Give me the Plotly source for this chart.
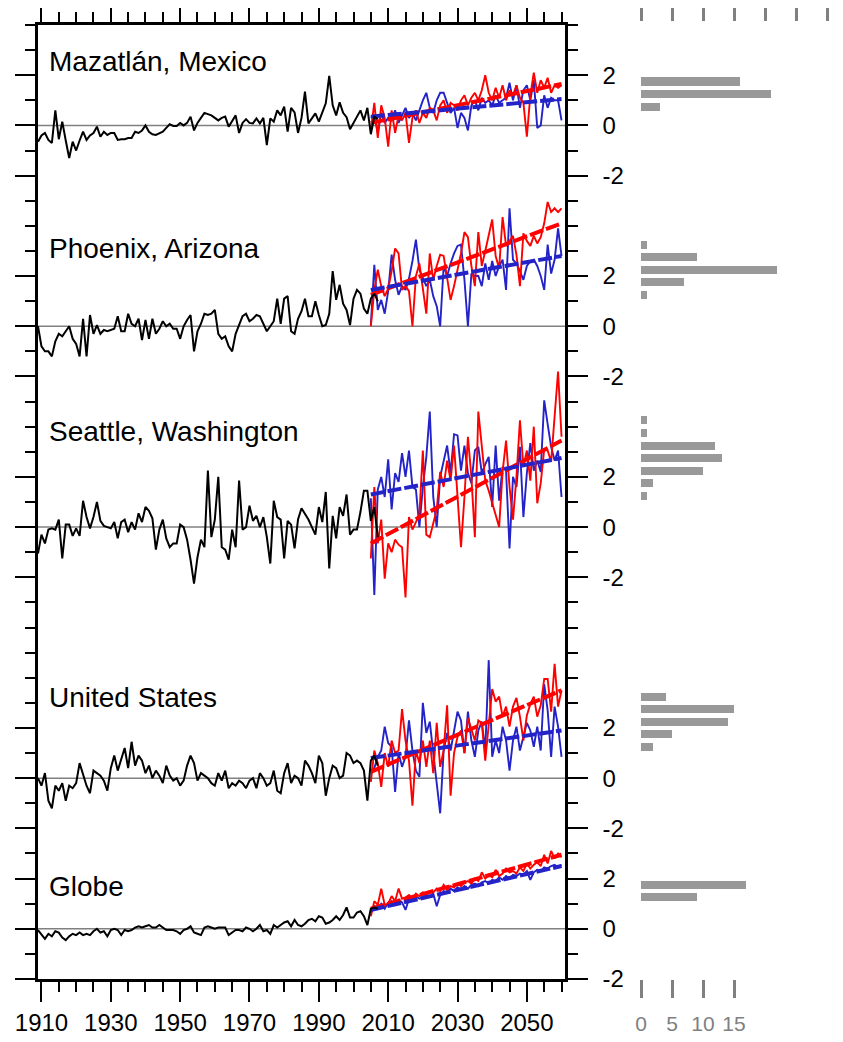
import plotly.graph_objects as go

# ---------------- data ----------------
obs_years = list(range(1909, 2008))
proj_years = list(range(2005, 2061))

stations = ["Mazatlán, Mexico", "Phoenix, Arizona", "Seattle, Washington", "United States", "Globe"]
baselines = [34, 26, 18, 8, 2]          # vertical offset of each panel's zero
right_labels = ["-2", "0", "2"]

obs_mazatlan = [
    -0.65, -0.4, -0.3, -0.58, -0.7, 0.6, -0.55, 0.15, -0.6, -1.3,
    -0.65, -1.0, -0.6, -0.25, -0.58, -0.4, -0.3, -0.05, -0.45, -0.25,
    -0.38, -0.3, -0.3, -0.58, -0.55, -0.55, -0.5, -0.5, -0.25, -0.3,
    -0.2, 0.0, -0.25, -0.35, -0.38, -0.3, -0.25, -0.1, 0.05, -0.02,
    -0.02, 0.1, 0.0, 0.1, 0.35, -0.2, 0.1, 0.3, 0.5, 0.45,
    0.4, 0.3, 0.2, 0.3, 0.35, -0.05, 0.2, 0.4, -0.3, 0.1,
    0.25, 0.1, 0.08, 0.28, 0.08, 0.3, -0.78, 0.28, 0.15, 0.6,
    0.4, 0.75, -0.25, 0.7, 0.52, -0.3, 0.3, 1.35, 0.08, 0.3,
    0.48, 0.15, 0.5, 0.88, 1.97, 0.8, 0.4, 0.92, 0.5, 0.33,
    -0.15, 0.1, 0.33, 0.6, 0.2, 0.7, -0.35, 0.35, 0.25]
obs_phoenix = [
    0.0, -0.8, -1.0, -1.0, -1.2, -0.6, -0.3, -0.4, -0.2, 0.0,
    -0.5, -0.7, -1.2, 0.3, -1.2, 0.45, -0.3, 0.05, -0.3, -0.15,
    -0.2, -0.15, -0.1, 0.4, -0.2, -0.2, 0.5, 0.1, 0.0, 0.3,
    -0.55, 0.25, -0.5, 0.3, -0.3, -0.1, 0.2, 0.0, 0.1, -0.1,
    -0.1, -0.5, 0.0, 0.25, 0.45, -1.0, -0.2, 0.1, 0.5, 0.45,
    0.5, 0.65, -0.3, -0.5, -0.4, -0.8, -1.0, -0.3, 0.05, 0.4,
    0.5, 0.2, 0.3, 0.45, 0.4, 0.1, -0.2, 0.0, 0.2, 1.1,
    0.1, 1.1, 1.2, -0.2, -0.3, 0.3, 0.6, 1.1, 0.4, 0.4,
    1.0, 0.45, 0.0, 0.05, 0.5, 2.2, 1.05, 1.65, 0.9, 0.65,
    0.05, 1.1, 1.45, 1.3, 0.7, 0.5, 1.1, 1.3, 1.0]
obs_seattle = [
    -1.05, -0.3, -0.65, -0.1, -0.05, -0.1, 0.3, -1.25, 0.1, 0.1,
    -0.35, -0.05, -0.35, 1.05, 0.4, -0.05, 0.4, 1.0, 0.25, 0.05,
    0.0, -0.05, 0.2, -0.45, 0.2, 0.3, -0.2, 0.2, -0.1, 0.55,
    0.2, 0.8, 0.65, 0.35, -0.9, -0.1, 0.3, -0.45, -0.8, -0.65,
    -0.65, 0.1, 0.0, -0.5, -1.3, -2.25, -1.2, -0.5, -0.8, 2.25,
    -0.4, 0.3, 2.0, -0.8, -0.9, -1.3, -0.1, -0.8, 1.85, -0.1,
    0.0, 0.85, 0.25, 0.45, 0.0, 0.4, -0.4, -1.45, 1.05, 0.4,
    0.3, -1.25, 0.25, 0.1, -0.85, 0.3, 0.75, 0.55, 0.3, 0.0,
    -0.3, 0.8, 0.2, 1.4, -1.65, 0.45, -0.45, 0.8, 0.45, 1.3,
    -0.3, -0.1, -0.1, 0.6, 1.45, 1.45, 0.25, 0.8, -0.4]
obs_us = [
    0.0, -0.3, 0.2, -0.9, -1.2, -0.3, -0.5, -0.2, -0.9, -0.3,
    -0.4, -0.2, 0.6, 0.1, -0.3, -0.6, 0.3, 0.2, 0.1, -0.1,
    -0.5, 0.4, 0.9, 0.3, 0.8, 1.2, 0.4, 1.45, 0.5, 0.9,
    0.7, 0.2, 0.5, 0.0, 0.3, 0.1, -0.2, 0.5, 0.1, -0.1,
    0.0, -0.3, -0.1, 0.5, 0.9, 0.6, -0.1, 0.2, 0.1, 0.0,
    -0.2, -0.3, 0.2, -0.1, 0.3, -0.4, -0.2, -0.3, -0.1, -0.2,
    -0.4, -0.1, 0.0, -0.4, 0.2, 0.0, -0.3, -0.2, 0.3, -0.5,
    -0.6, 0.2, 0.6, -0.2, 0.1, 0.0, -0.3, 0.7, 0.5, 0.2,
    -0.2, 0.9, 0.6, -0.7, 0.0, 0.5, 0.4, 0.0, 0.1, 1.0,
    0.9, 0.6, 0.7, 0.6, 0.3, -0.9, 0.7, 0.9, 0.5]
obs_globe = [
    -0.05, -0.25, -0.4, -0.2, -0.3, -0.1, -0.15, -0.35, -0.45, -0.3,
    -0.2, -0.25, -0.15, -0.25, -0.2, -0.25, -0.1, 0.0, -0.15, -0.1,
    -0.3, -0.05, 0.0, -0.05, -0.25, -0.05, -0.1, -0.05, 0.05, 0.1,
    0.05, 0.1, 0.15, 0.05, 0.05, 0.15, 0.05, -0.05, -0.05, -0.05,
    -0.1, -0.2, -0.05, 0.0, 0.1, -0.15, -0.2, -0.25, 0.05, 0.1,
    0.05, 0.0, 0.05, 0.05, 0.05, -0.25, -0.15, -0.05, -0.05, -0.1,
    0.05, 0.0, -0.1, 0.0, 0.15, -0.1, -0.05, -0.2, 0.15, 0.05,
    0.15, 0.25, 0.3, 0.1, 0.35, 0.15, 0.1, 0.2, 0.35, 0.4,
    0.3, 0.5, 0.45, 0.2, 0.25, 0.35, 0.5, 0.35, 0.55, 0.85,
    0.45, 0.45, 0.65, 0.7, 0.5, 0.15, 0.8, 0.85, 0.8]

red_mazatlan = [
    -0.2, 0.9, -0.5, 0.8, 0.3, -0.85, 0.6, -0.3, 0.4, 0.2,
    0.5, -0.7, 0.3, 0.6, 0.1, 0.5, 0.3, 0.7, 0.6, 0.2,
    0.8, 1.0, 0.5, 0.9, 0.8, 0.6, 1.0, 1.2, 0.8, 1.1,
    1.3, 1.0, 1.4, 2.0, 1.3, 1.0, 1.5, 1.1, 1.6, 1.0,
    1.4, 1.2, 1.6, 1.1, 0.9, -0.45, 1.2, 2.1, 1.3, 1.8,
    1.5, 1.9, 1.3, 1.6, 1.5, 1.6]
blue_mazatlan = [
    0.3, 0.4, -0.3, 0.5, 0.1, 0.3, 0.2, 0.6, 0.1, 0.4,
    0.7, 0.3, 0.5, 0.2, 0.6, 1.0, 1.3, 0.7, 0.5, 1.0,
    1.3, 1.3, 0.9, 0.5, 0.7, -0.1, 0.5, 0.3, -0.2, 0.8,
    1.0, 0.6, 1.1, 0.9, 1.0, 0.8, 1.2, 0.9, 1.0, 1.1,
    1.7, 1.0, 1.6, 0.7, 1.4, 1.6, 1.0, 1.8, -0.1, 0.0,
    1.2, 0.7, 1.1, 1.0, 1.0, 0.2]
red_phoenix = [
    0.0, 1.45, 2.25, 1.6, 1.2, 1.5, 2.2, 3.1, 2.9, 1.45,
    1.6, 1.4, 0.0, 2.0, 2.5, 1.4, 0.5, 2.9, 1.85, 2.4,
    2.85, 2.8, 2.0, 1.05, 1.6, 2.2, 2.9, 3.75, 3.55, 2.4,
    1.6, 3.75, 2.4, 3.0, 3.7, 4.25, 2.8, 2.3, 4.35, 3.2,
    3.4, 3.6, 2.85, 1.6, 3.7, 3.4, 3.2, 3.6, 3.3, 3.55,
    4.1, 4.95, 4.55, 4.7, 4.55, 4.7]
blue_phoenix = [
    0.05, 2.45, 0.65, 1.05, 0.5, 1.4, 2.85, 1.85, 1.25, 1.6,
    1.45, 1.9, 2.6, 3.45, 2.25, 1.9, 1.6, 1.85, 1.2, 0.8,
    0.0, 2.4, 2.0, 2.5, 2.9, 3.2, 3.25, 1.85, 0.0, 2.1,
    2.0, 2.0, 1.6, 2.5, 1.85, 2.6, 2.0, 2.4, 2.65, 1.45,
    4.7, 2.65, 2.5, 2.2, 1.85, 2.4, 2.6, 2.65, 2.4, 2.0,
    1.45, 3.25, 2.1, 2.65, 3.9, 2.8]
red_seattle = [
    -1.25, 1.6, -0.65, 0.3, -2.05, -0.65, -1.0, -0.5, -0.7, -0.8,
    -2.8, 0.4, -0.1, 0.2, 0.5, 3.05, -0.3, -0.4, 0.15, 0.7,
    2.2, 1.6, 2.65, 1.85, 3.25, 1.0, -0.8, 1.2, 3.6, 2.0,
    -0.4, 4.6, 3.2, 1.85, 1.45, 1.0, 0.55, 0.0, 2.2, 3.45,
    1.6, 0.3, 2.0, 4.25, 2.4, 3.05, 1.85, 4.0, 0.95, 1.75,
    3.1, 3.05, 2.6, 4.4, 6.2, 3.6]
blue_seattle = [
    1.15, -2.7, 1.5, 2.0, 1.2, 2.7, 0.7, 2.15, 1.8, 2.95,
    2.0, 3.05, 1.6, 1.5, 0.0, 1.6, 2.8, 4.6, 1.2, 0.0,
    2.0, 2.6, 3.25, 2.15, 3.7, 3.65, 2.25, 3.25, 2.15, 1.75,
    3.05, 3.2, 2.15, 2.5, 2.8, 0.8, 3.25, 1.05, 2.4, 2.25,
    -0.85, 2.0, 1.6, 3.2, 0.4, 2.15, 3.35, 2.25, 2.65, 2.2,
    5.05, 4.1, 3.2, 2.65, 3.05, 1.2]
red_us = [
    -0.15, 1.1, 0.6, -0.35, 1.0, 0.45, 1.5, 1.0, 1.1, 2.75,
    1.5, 0.7, -1.1, 1.1, 0.6, 1.5, 0.45, 1.5, 0.2, 2.2,
    0.45, 1.1, 2.9, -0.7, 1.0, 1.65, 1.9, 1.0, 2.4, 1.9,
    1.5, 2.3, 2.2, 0.7, 2.1, 3.55, 3.05, 3.25, 2.45, 2.85,
    2.05, 2.85, 3.2, 2.45, 1.5, 2.5, 2.95, 3.25, 2.45, 2.9,
    3.95, 3.95, 2.65, 4.55, 2.85, 3.5]
blue_us = [
    0.3, 0.4, 0.85, 1.1, 2.05, 1.4, 1.25, -0.55, 1.0, 0.45,
    0.85, 2.3, 1.1, 0.3, 0.05, 3.0, 1.8, 2.25, 1.0, -0.2,
    -1.4, 1.1, 1.8, 1.1, 1.9, 2.65, 2.3, 1.0, 2.65, 1.5,
    0.85, 1.9, 2.25, 1.1, 4.7, 0.85, 1.5, 1.0, 2.05, 1.5,
    0.3, 1.5, 2.05, 1.1, 1.65, 2.2, 1.9, 1.25, 2.05, 1.1,
    3.75, 2.7, 0.85, 2.85, 2.05, 0.85]
red_globe = [
    0.5, 1.1, 0.95, 1.6, 0.95, 1.0, 1.3, 1.1, 1.6, 1.2,
    1.25, 1.35, 1.2, 1.4, 1.3, 1.45, 1.4, 1.5, 1.45, 1.6,
    1.5, 1.75, 1.55, 1.7, 1.65, 1.8, 1.7, 1.85, 1.9, 1.8,
    2.0, 1.9, 2.25, 2.0, 2.15, 2.05, 2.35, 2.1, 2.2, 2.4,
    2.25, 2.3, 2.2, 2.45, 2.3, 2.6, 2.4, 2.55, 2.65, 2.5,
    2.95, 2.6, 3.1, 2.8, 3.0, 2.85]
blue_globe = [
    0.65, 0.9, 0.85, 1.0, 0.8, 1.05, 1.1, 0.95, 1.15, 1.05,
    0.75, 1.2, 1.15, 1.3, 1.2, 1.25, 1.35, 1.3, 1.4, 0.9,
    1.35, 1.5, 1.45, 1.6, 1.5, 1.65, 1.55, 1.7, 1.6, 1.75,
    1.8, 1.7, 1.85, 1.9, 1.8, 1.95, 1.9, 2.05, 1.95, 2.1,
    2.0, 2.15, 2.1, 2.2, 2.15, 2.3, 1.95, 2.25, 2.35, 2.3,
    2.45, 2.4, 2.5, 2.55, 2.45, 2.55]

# linear trend of each projection: value in 2005 and in 2060
trend_years = [2005, 2060]
red_trends = [[0.1, 1.65], [1.25, 4.1], [-0.65, 3.45], [0.25, 3.5], [0.8, 2.95]]
blue_trends = [[0.35, 1.05], [1.45, 2.8], [1.3, 2.75], [0.8, 1.9], [0.75, 2.5]]

# histograms (bin centres, counts)
hist_centers = [
    [0.75, 1.25, 1.75],
    [1.25, 1.75, 2.25, 2.75, 3.25],
    [1.25, 1.75, 2.25, 2.75, 3.25, 3.75, 4.25],
    [1.25, 1.75, 2.25, 2.75, 3.25],
    [1.25, 1.75],
]
hist_counts = [
    [3, 21, 16],
    [1, 7, 22, 9, 1],
    [1, 2, 10, 13, 12, 1, 1],
    [2, 5, 14, 15, 4],
    [9, 17],
]

obs = [obs_mazatlan, obs_phoenix, obs_seattle, obs_us, obs_globe]
reds = [red_mazatlan, red_phoenix, red_seattle, red_us, red_globe]
blues = [blue_mazatlan, blue_phoenix, blue_seattle, blue_us, blue_globe]

x_ticks = list(range(1910, 2051, 20))
hist_ticks_bottom = [0, 5, 10, 15]
hist_ticks_top = list(range(0, 31, 5))

# ---------------- styling / layout constants ----------------
PAGE_W, PAGE_H = 843, 1042
BODY = 8                      # default page margin around the plot div
W, H = PAGE_W - BODY, PAGE_H - BODY
FONT = "Liberation Sans, Arial, Helvetica, sans-serif"
RED = "#ff0000"
BLUE = "#2323c8"
GREY = "#999999"
label_y = [36.55, 29.1, 21.8, 11.2, 3.7]

def px_x(p):
    return (p - BODY) / W

def px_y(p):
    return 1 - (p - BODY) / H

fig = go.Figure()

for i, name in enumerate(stations):
    b = baselines[i]
    fig.add_trace(go.Scatter(x=proj_years, y=[b + v for v in blues[i]], mode="lines",
                             line=dict(color=BLUE, width=1.9), showlegend=False, hoverinfo="skip"))
    fig.add_trace(go.Scatter(x=proj_years, y=[b + v for v in reds[i]], mode="lines",
                             line=dict(color=RED, width=1.9), showlegend=False, hoverinfo="skip"))
    fig.add_trace(go.Scatter(x=trend_years, y=[b + v for v in red_trends[i]], mode="lines",
                             line=dict(color=RED, width=4, dash="14px,3px"), showlegend=False, hoverinfo="skip"))
    fig.add_trace(go.Scatter(x=trend_years, y=[b + v for v in blue_trends[i]], mode="lines",
                             line=dict(color=BLUE, width=4, dash="14px,3px"), showlegend=False, hoverinfo="skip"))
    fig.add_trace(go.Scatter(x=obs_years, y=[b + v for v in obs[i]], mode="lines",
                             line=dict(color="black", width=2), showlegend=False, hoverinfo="skip"))
    fig.add_trace(go.Bar(x=hist_counts[i], y=[b + c for c in hist_centers[i]], orientation="h",
                         width=0.32, marker=dict(color=GREY, line=dict(width=0)),
                         xaxis="x2", yaxis="y", showlegend=False, hoverinfo="skip"))
    fig.add_shape(type="line", xref="x domain", yref="y", x0=0, x1=1, y0=b, y1=b,
                  line=dict(color="#808080", width=1.5), layer="below")
    fig.add_annotation(text=name, xref="x domain", yref="y", x=0.018, y=label_y[i],
                       xanchor="left", yanchor="middle", showarrow=False,
                       font=dict(family=FONT, size=28, color="black"))

# empty trace so the top histogram tick axis is drawn
fig.add_trace(go.Scatter(x=[None], y=[None], xaxis="x3", yaxis="y", mode="lines",
                         showlegend=False, hoverinfo="skip"))

# y tick labels on the right: -2, 0, 2 for each panel
label_map = {}
for b in baselines:
    for k, t in zip((-2, 0, 2), right_labels):
        label_map[b + k] = t
ytickvals = list(range(0, 39, 2))
yticktext = [label_map.get(v, "") for v in ytickvals]

fig.update_layout(
    width=W, height=H, autosize=False,
    margin=dict(l=0, r=0, t=0, b=0, autoexpand=False),
    paper_bgcolor="white", plot_bgcolor="white",
    font=dict(family=FONT, color="black"),
    bargap=0,
    xaxis=dict(domain=[px_x(38), px_x(565)], range=[1909, 2061], automargin=False,
               tickmode="array", tickvals=x_ticks, ticktext=[str(v) for v in x_ticks],
               ticks="outside", ticklen=20, tickwidth=2, tickcolor="black",
               showline=True, linewidth=2.5, linecolor="black", mirror="ticks",
               showgrid=False, zeroline=False,
               minor=dict(tickvals=list(range(1910, 2061, 5)), ticks="outside",
                          ticklen=10, tickwidth=2, tickcolor="black", showgrid=False),
               tickfont=dict(family=FONT, size=24, color="black"), anchor="y"),
    yaxis=dict(domain=[px_y(979), px_y(25)], range=[0, 38], side="right", automargin=False,
               tickmode="array", tickvals=ytickvals, ticktext=yticktext,
               ticks="outside", ticklen=20, tickwidth=2, tickcolor="black",
               showline=True, linewidth=2.5, linecolor="black", mirror="ticks",
               showgrid=False, zeroline=False, ticklabelstandoff=10,
               minor=dict(tickvals=list(range(0, 39, 1)), ticks="outside",
                          ticklen=10, tickwidth=2, tickcolor="black", showgrid=False),
               tickfont=dict(family=FONT, size=24, color="black"), anchor="x"),
    xaxis2=dict(domain=[px_x(641), px_x(827)], range=[0, 30], anchor="y", automargin=False,
                tickmode="array", tickvals=hist_ticks_bottom,
                ticktext=[str(v) for v in hist_ticks_bottom],
                ticks="outside", ticklen=18, tickwidth=2.5, tickcolor="#808080",
                showline=False, showgrid=False, zeroline=False, ticklabelstandoff=8,
                tickfont=dict(family=FONT, size=21, color="#808080")),
    xaxis3=dict(domain=[px_x(641), px_x(827)], range=[0, 30], overlaying="x2", automargin=False,
                side="top", anchor="free", position=px_y(21),
                tickmode="array", tickvals=hist_ticks_top,
                ticks="outside", ticklen=16, tickwidth=2.5, tickcolor="#808080",
                showticklabels=False, showline=False, showgrid=False, zeroline=False),
)

fig.write_html("out.html")
